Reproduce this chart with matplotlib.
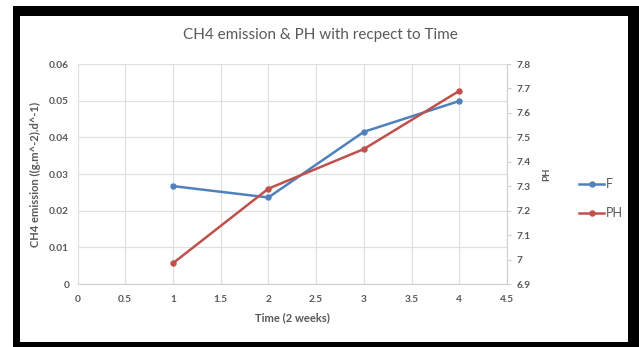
import matplotlib
matplotlib.use('Agg')
from matplotlib import pyplot as plt
from matplotlib.patches import Rectangle

# Measurements over time
time = [1, 2, 3, 4]
ch4_emission = [0.0267, 0.0236, 0.0415, 0.0499]
ph_values = [6.985, 7.29, 7.452, 7.69]

plt.rcParams['font.family'] = ['Lato', 'DejaVu Sans']
text_grey = '#595959'
grid_grey = '#e0e0e0'

fig = plt.figure(figsize=(6.39, 3.47), dpi=100)
W, H = 639, 347

# black frame around the chart
fig.patches.append(Rectangle((13 / W, 0), 626 / W, 341 / H, transform=fig.transFigure,
                             facecolor='black', edgecolor='none', zorder=-2))
fig.patches.append(Rectangle((20 / W, 5 / H), 608 / W, 326 / H, transform=fig.transFigure,
                             facecolor='white', edgecolor='none', zorder=-1))

ax = fig.add_axes([77.5 / W, 63 / H, 429.5 / W, 220 / H])
ax.patch.set_alpha(0)
ax2 = ax.twinx()

l1, = ax.plot(time, ch4_emission, color='#4f81bd', lw=1.8, marker='o', ms=3.6, label='F')
l2, = ax2.plot(time, ph_values, color='#c0504d', lw=1.8, marker='o', ms=3.6, label='PH')

ax.set_xlim(0, 4.5)
ax.set_ylim(0, 0.06)
ax2.set_ylim(6.9, 7.8)
ax.set_xticks([0, 0.5, 1, 1.5, 2, 2.5, 3, 3.5, 4, 4.5])
ax.set_xticklabels(['0', '0.5', '1', '1.5', '2', '2.5', '3', '3.5', '4', '4.5'])
ax.set_yticks([0, 0.01, 0.02, 0.03, 0.04, 0.05, 0.06])
ax.set_yticklabels(['0', '0.01', '0.02', '0.03', '0.04', '0.05', '0.06'])
ax2.set_yticks([6.9, 7.0, 7.1, 7.2, 7.3, 7.4, 7.5, 7.6, 7.7, 7.8])
ax2.set_yticklabels(['6.9', '7', '7.1', '7.2', '7.3', '7.4', '7.5', '7.6', '7.7', '7.8'])

ax.grid(True, color=grid_grey, lw=0.9)
ax.set_axisbelow(True)
for a in (ax, ax2):
    for s in a.spines.values():
        s.set_visible(False)
ax.spines['bottom'].set_visible(True)
ax.spines['bottom'].set_color('#d0d0d0')
ax2.spines['right'].set_visible(True)
ax2.spines['right'].set_color('#d0d0d0')

ax.tick_params(axis='both', length=0, labelsize=7.3, labelcolor=text_grey, pad=6)
ax.tick_params(axis='x', pad=8)
for lbl in ax.get_xticklabels() + ax.get_yticklabels():
    lbl.set_fontweight('bold')
ax2.tick_params(axis='y', length=3, color='#d0d0d0', labelsize=7.3, labelcolor=text_grey, pad=4)
for lbl in ax2.get_yticklabels():
    lbl.set_fontweight('bold')

ax.set_xlabel('Time (2 weeks)', fontsize=8, color=text_grey, fontweight='bold', labelpad=6)
ax.set_ylabel('CH4 emission ((g.m^-2).d^-1)', fontsize=8, color=text_grey, fontweight='bold', labelpad=6)
ax2.set_ylabel('PH', fontsize=7, color=text_grey, fontweight='bold', labelpad=8)

fig.text(320 / W, 1 - 35 / H, 'CH4 emission & PH with recpect to Time', ha='center', va='center',
         fontsize=11, color=text_grey)

fig.legend(handles=[l1, l2], loc='center left', bbox_to_anchor=(568 / W, 1 - 198.5 / H),
           frameon=False, fontsize=9, labelcolor=text_grey, handlelength=2.0, handletextpad=0.1,
           labelspacing=1.35)

fig.savefig('out.png', dpi=100)
